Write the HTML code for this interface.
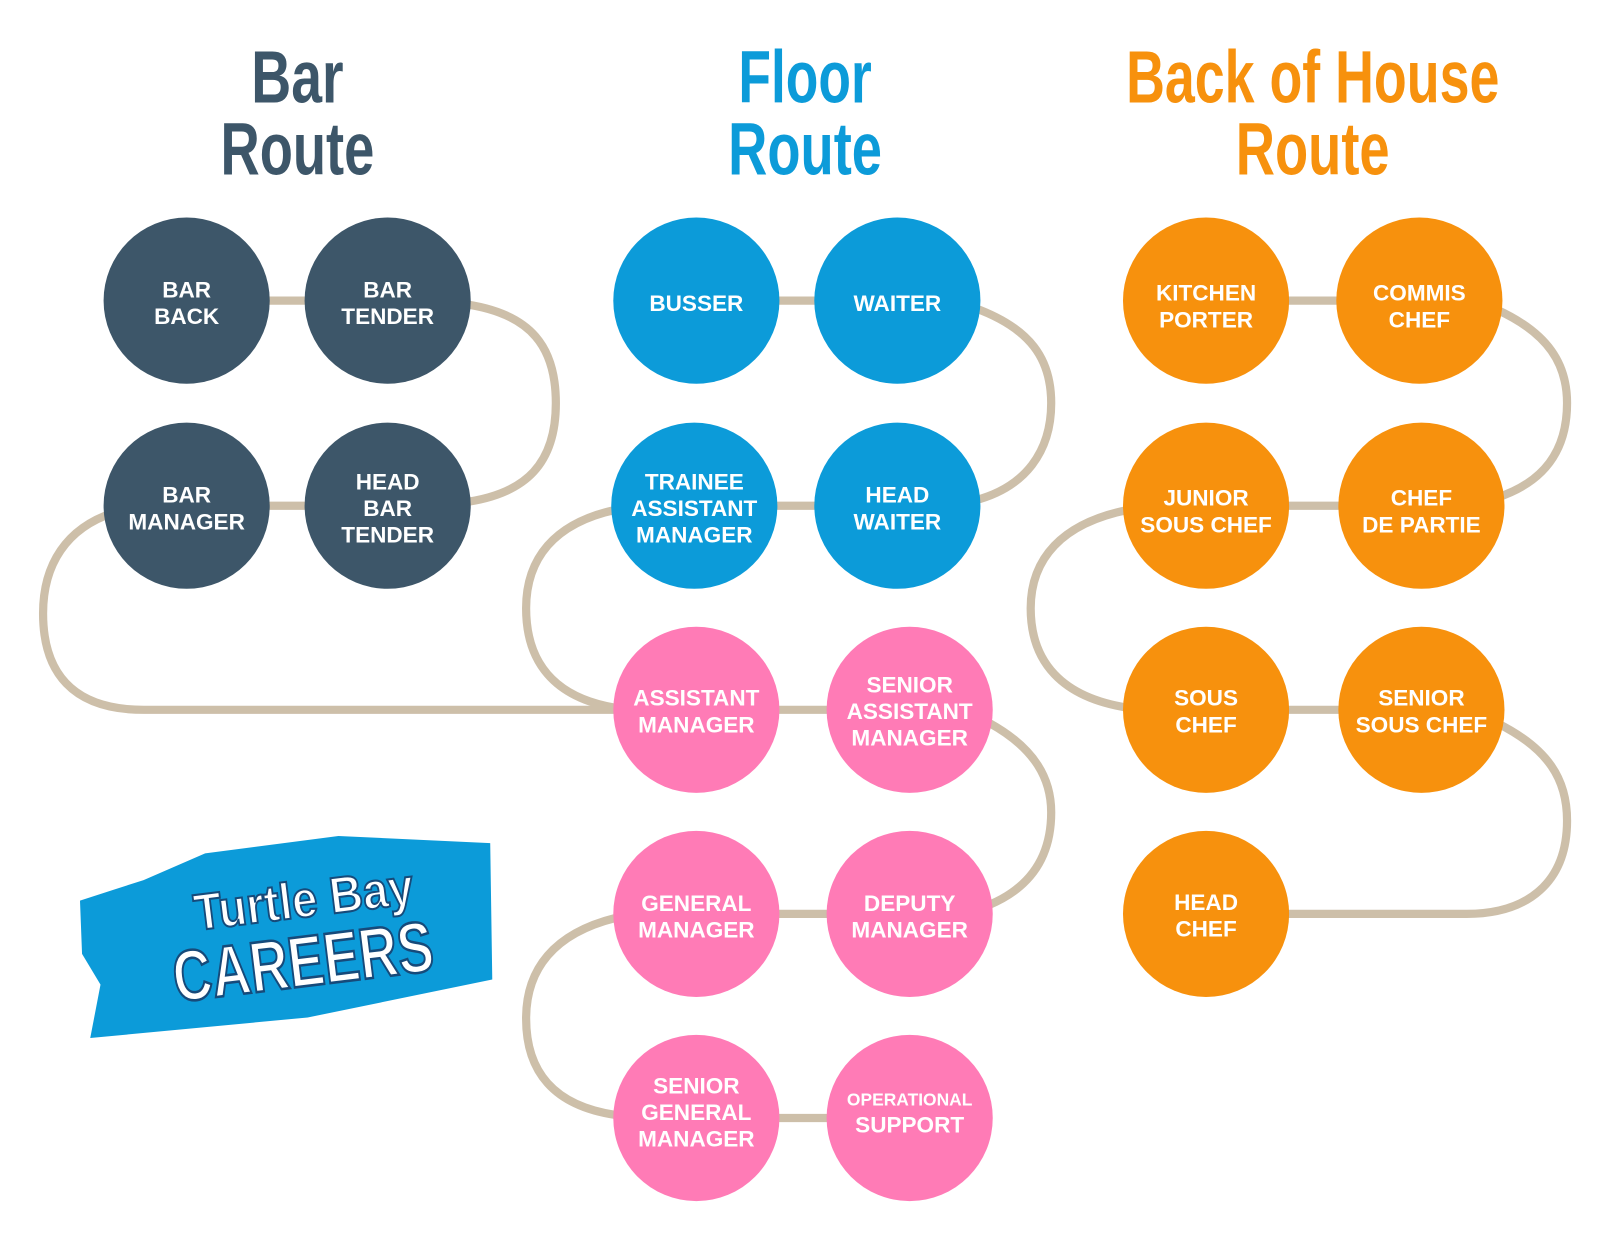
<!DOCTYPE html>
<html><head><meta charset="utf-8"><style>
html,body{margin:0;padding:0;background:#fff;width:1605px;height:1233px;overflow:hidden}
svg{display:block}
.t{font-family:"Liberation Sans Narrow","Liberation Sans",sans-serif;font-weight:bold;text-anchor:middle}
.n{font-family:"Liberation Sans",sans-serif;font-weight:bold;font-size:22px;fill:#fff;text-anchor:middle}
</style></head><body>
<svg width="1605" height="1233" viewBox="0 0 1565 1202" xmlns="http://www.w3.org/2000/svg">
<g fill="none" stroke="#cdbfa9" stroke-width="8" stroke-linecap="round">
<path d="M182 293H378"/>
<path d="M450 296C520 305 542 340 542 393C542 450 515 482 450 490"/>
<path d="M182 493H378"/>
<path d="M110 500C65 515 42 550 42 598C42 655 70 692 140 692H600"/>
<path d="M679 293H875"/>
<path d="M950 300C1005 320 1025 350 1025 393C1025 440 1000 475 950 488"/>
<path d="M677 493H875"/>
<path d="M600 497C540 510 513 545 513 593C513 645 540 680 600 690"/>
<path d="M679 692H887"/>
<path d="M965 705C1010 730 1025 760 1025 792C1025 835 1005 865 965 882"/>
<path d="M679 891H887"/>
<path d="M600 895C540 910 513 945 513 993C513 1045 540 1078 600 1087"/>
<path d="M679 1090H887"/>
<path d="M1176 293H1384"/>
<path d="M1460 302C1510 325 1528 355 1528 393C1528 440 1505 470 1460 485"/>
<path d="M1176 493H1386"/>
<path d="M1100 497C1035 510 1005 545 1005 593C1005 645 1035 680 1100 690"/>
<path d="M1176 692H1386"/>
<path d="M1460 705C1510 730 1528 760 1528 800C1528 860 1490 891 1430 891H1176"/>
</g>
<g>
<g fill="#3d5669"><circle cx="182" cy="293" r="81"/><circle cx="378" cy="293" r="81"/><circle cx="182" cy="493" r="81"/><circle cx="378" cy="493" r="81"/></g>
<g fill="#0c9bd9"><circle cx="679" cy="293" r="81"/><circle cx="875" cy="293" r="81"/><circle cx="677" cy="493" r="81"/><circle cx="875" cy="493" r="81"/></g>
<g fill="#ff7bb6"><circle cx="679" cy="692" r="81"/><circle cx="887" cy="692" r="81"/><circle cx="679" cy="891" r="81"/><circle cx="887" cy="891" r="81"/><circle cx="679" cy="1090" r="81"/><circle cx="887" cy="1090" r="81"/></g>
<g fill="#f7910d"><circle cx="1176" cy="293" r="81"/><circle cx="1384" cy="293" r="81"/><circle cx="1176" cy="493" r="81"/><circle cx="1386" cy="493" r="81"/><circle cx="1176" cy="692" r="81"/><circle cx="1386" cy="692" r="81"/><circle cx="1176" cy="891" r="81"/></g>
</g>
<g class="t" font-size="72">
<text x="290" y="100" fill="#3d5669" textLength="90" lengthAdjust="spacingAndGlyphs">Bar</text>
<text x="290" y="170" fill="#3d5669" textLength="150" lengthAdjust="spacingAndGlyphs">Route</text>
<text x="785" y="100" fill="#0c9bd9" textLength="130" lengthAdjust="spacingAndGlyphs">Floor</text>
<text x="785" y="170" fill="#0c9bd9" textLength="150" lengthAdjust="spacingAndGlyphs">Route</text>
<text x="1280" y="100" fill="#f7910d" textLength="364" lengthAdjust="spacingAndGlyphs">Back of House</text>
<text x="1280" y="170" fill="#f7910d" textLength="150" lengthAdjust="spacingAndGlyphs">Route</text>
</g>
<g class="n">
<text x="182" y="290">BAR</text><text x="182" y="316">BACK</text>
<text x="378" y="290">BAR</text><text x="378" y="316">TENDER</text>
<text x="182" y="490">BAR</text><text x="182" y="516">MANAGER</text>
<text x="378" y="477">HEAD</text><text x="378" y="503">BAR</text><text x="378" y="529">TENDER</text>
<text x="679" y="303">BUSSER</text>
<text x="875" y="303">WAITER</text>
<text x="677" y="477">TRAINEE</text><text x="677" y="503">ASSISTANT</text><text x="677" y="529">MANAGER</text>
<text x="875" y="490">HEAD</text><text x="875" y="516">WAITER</text>
<text x="679" y="688">ASSISTANT</text><text x="679" y="714">MANAGER</text>
<text x="887" y="675">SENIOR</text><text x="887" y="701">ASSISTANT</text><text x="887" y="727">MANAGER</text>
<text x="679" y="888">GENERAL</text><text x="679" y="914">MANAGER</text>
<text x="887" y="888">DEPUTY</text><text x="887" y="914">MANAGER</text>
<text x="679" y="1066">SENIOR</text><text x="679" y="1092">GENERAL</text><text x="679" y="1118">MANAGER</text>
<text x="887" y="1078" font-size="17">OPERATIONAL</text><text x="887" y="1104">SUPPORT</text>
<text x="1176" y="293">KITCHEN</text><text x="1176" y="319">PORTER</text>
<text x="1384" y="293">COMMIS</text><text x="1384" y="319">CHEF</text>
<text x="1176" y="493">JUNIOR</text><text x="1176" y="519">SOUS CHEF</text>
<text x="1386" y="493">CHEF</text><text x="1386" y="519">DE PARTIE</text>
<text x="1176" y="688">SOUS</text><text x="1176" y="714">CHEF</text>
<text x="1386" y="688">SENIOR</text><text x="1386" y="714">SOUS CHEF</text>
<text x="1176" y="887">HEAD</text><text x="1176" y="913">CHEF</text>
</g>
<polygon points="78,878 140,858 200,832 330,815 478,822 480,955 300,992 88,1012 98,960 80,930" fill="#0c9bd9"/>
<g transform="rotate(-7 290 910)">
<text class="t" x="300" y="895" font-size="50" fill="#fff" stroke="#164a7a" stroke-width="2" textLength="215" lengthAdjust="spacingAndGlyphs">Turtle Bay</text>
<text class="t" x="292" y="962" font-size="70" fill="#fff" stroke="#164a7a" stroke-width="2.5" textLength="255" lengthAdjust="spacingAndGlyphs">CAREERS</text>
</g>
</svg>
</body></html>
